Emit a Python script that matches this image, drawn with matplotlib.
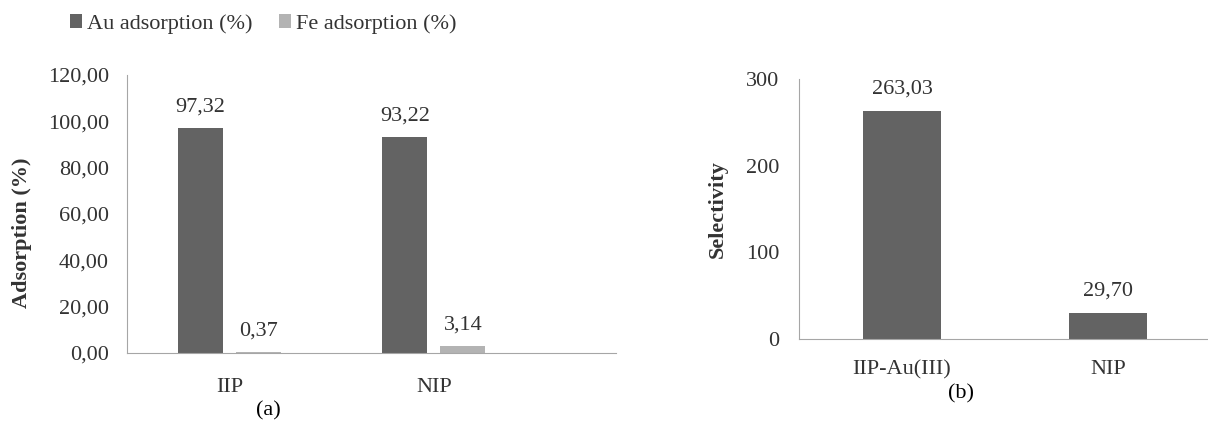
import numpy as np
import matplotlib as mpl
mpl.use('Agg')
import matplotlib.pyplot as plt

plt.rcParams['font.family'] = ['Liberation Serif', 'DejaVu Serif']

# data
groups = ['IIP', 'NIP']
au_ads = [97.32, 93.22]
fe_ads = [0.37, 3.14]
sel_labels = ['IIP-Au(III)', 'NIP']
selectivity = [263.03, 29.70]

DARK = '#636363'
LIGHT = '#b3b3b3'
AXC = '#a6a6a6'
TXT = '#333333'
FS = 16


def fmt(v):
    return f'{v:.2f}'.replace('.', ',')


def clean(ax):
    for s in ['top', 'right']:
        ax.spines[s].set_visible(False)
    ax.spines['left'].set_color(AXC)
    ax.spines['bottom'].set_color(AXC)
    ax.tick_params(length=0, labelsize=FS, colors=TXT)


fig = plt.figure(figsize=(12.08, 4.23), dpi=100)

# (a) adsorption
ax1 = fig.add_axes([0.1051, 0.1655, 0.5099 - 0.1051, 0.8227 - 0.1655])
x = np.arange(len(groups))
off, w = 0.142, 0.22
b1 = ax1.bar(x - off, au_ads, w, color=DARK, label='Au adsorption (%)')
b2 = ax1.bar(x + off, fe_ads, w, color=LIGHT, label='Fe adsorption (%)')
for bars in (b1, b2):
    for r in bars:
        ax1.annotate(fmt(r.get_height()), (r.get_x() + r.get_width() / 2, r.get_height()),
                     xytext=(0, 8), textcoords='offset points', ha='center', va='bottom',
                     fontsize=FS, color=TXT)
ax1.set_xlim(-0.501, 1.89)
ax1.set_ylim(0, 120)
ax1.set_yticks(np.arange(0, 121, 20))
ax1.set_yticklabels([fmt(v) for v in np.arange(0, 121, 20)])
ax1.set_xticks(x)
ax1.set_xticklabels(groups)
clean(ax1)
ax1.tick_params(axis='y', pad=13)
ax1.tick_params(axis='x', pad=18)
fig.text(0.018, 1 - 233 / 423, 'Adsorption (%)', rotation=90, ha='center', va='center',
         fontsize=FS, fontweight='bold', color=TXT)
fig.text(268 / 1208, 1 - 411 / 423, '(a)', ha='center', va='center', fontsize=FS, color='black')

fig.legend(handles=[b1, b2], loc='center left', bbox_to_anchor=(50 / 1208, 1 - 24 / 423),
           ncol=2, frameon=False, fontsize=FS, handlelength=0.55, handleheight=0.55,
           handletextpad=0.2, columnspacing=1.2, labelcolor=TXT)

# (b) selectivity
ax2 = fig.add_axes([0.6614, 0.1986, 1.0 - 0.6614, 0.8132 - 0.1986])
x2 = np.arange(len(sel_labels))
b3 = ax2.bar(x2, selectivity, 0.38, color=DARK)
for r in b3:
    ax2.annotate(fmt(r.get_height()), (r.get_x() + r.get_width() / 2, r.get_height()),
                 xytext=(0, 9), textcoords='offset points', ha='center', va='bottom',
                 fontsize=FS, color=TXT)
ax2.set_xlim(-0.5, 1.485)
ax2.set_ylim(0, 300)
ax2.set_yticks([0, 100, 200, 300])
ax2.set_xticks(x2)
ax2.set_xticklabels(sel_labels)
clean(ax2)
ax2.tick_params(axis='y', pad=14)
ax2.tick_params(axis='x', pad=15)
fig.text(718 / 1208, 1 - 209 / 423, 'Selectivity', rotation=90, ha='center', va='center',
         fontsize=FS, fontweight='bold', color=TXT)
fig.text(961 / 1208, 1 - 394 / 423, '(b)', ha='center', va='center', fontsize=FS, color='black')

fig.savefig('out.png', dpi=100)
